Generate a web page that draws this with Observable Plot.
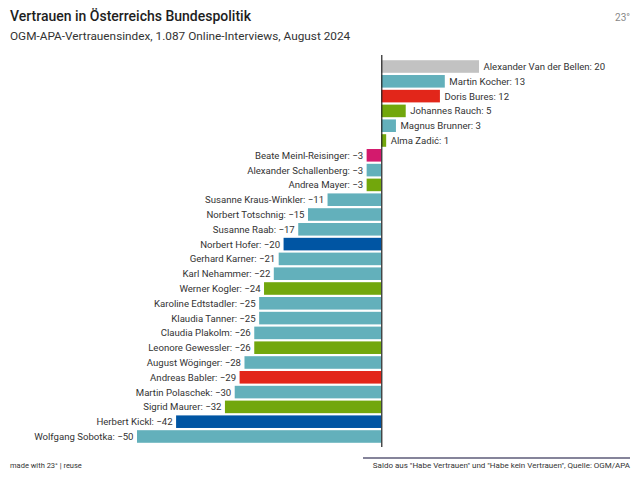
<!DOCTYPE html>
<html>
<head>
<meta charset="utf-8">
<script src="https://cdn.jsdelivr.net/npm/d3@7"></script>
<script src="https://cdn.jsdelivr.net/npm/@observablehq/plot@0.6"></script>
<style>
  body { margin: 0; width: 640px; height: 480px; overflow: hidden; background: #fff; font-family: Roboto, "Noto Sans", sans-serif; color: #222; position: relative; }
  #title { position: absolute; left: 10px; top: 8px; font-size: 14px; font-weight: 500; color: #1e1e1e; }
  #subtitle { position: absolute; left: 10px; top: 29px; font-size: 11.8px; color: #333; }
  #logo { position: absolute; right: 10px; top: 12px; font-size: 10px; color: #888; }
  #chart { position: absolute; left: 0; top: 50px; line-height: 0; }
  #chart svg { display: block; }
  #foot-left { position: absolute; left: 10px; top: 461px; font-size: 7.5px; color: #333; }
  #foot-right { position: absolute; right: 10px; top: 461px; font-size: 8px; color: #333; }
  #foot-line { position: absolute; left: 363px; width: 267px; top: 457px; height: 2px; background: #85849a; }
</style>
</head>
<body>
<div id="title">Vertrauen in Österreichs Bundespolitik</div>
<div id="subtitle">OGM-APA-Vertrauensindex, 1.087 Online-Interviews, August 2024</div>
<div id="logo">23°</div>
<div id="chart"></div>
<div id="foot-line"></div>
<div id="foot-left">made with 23° | reuse</div>
<div id="foot-right">Saldo aus "Habe Vertrauen" und "Habe kein Vertrauen", Quelle: OGM/APA</div>
<script>
const names = ["Alexander Van der Bellen","Martin Kocher","Doris Bures","Johannes Rauch","Magnus Brunner","Alma Zadić","Beate Meinl-Reisinger","Alexander Schallenberg","Andrea Mayer","Susanne Kraus-Winkler","Norbert Totschnig","Susanne Raab","Norbert Hofer","Gerhard Karner","Karl Nehammer","Werner Kogler","Karoline Edtstadler","Klaudia Tanner","Claudia Plakolm","Leonore Gewessler","August Wöginger","Andreas Babler","Martin Polaschek","Sigrid Maurer","Herbert Kickl","Wolfgang Sobotka"];
const values = [20,13,12,5,3,1,-3,-3,-3,-11,-15,-17,-20,-21,-22,-24,-25,-25,-26,-26,-28,-29,-30,-32,-42,-50];
const parties = ["Unabhängig","ÖVP","SPÖ","Grüne","ÖVP","Grüne","NEOS","ÖVP","Grüne","ÖVP","ÖVP","ÖVP","FPÖ","ÖVP","ÖVP","Grüne","ÖVP","ÖVP","ÖVP","Grüne","ÖVP","SPÖ","ÖVP","Grüne","FPÖ","ÖVP"];
const partyDomain = ["Unabhängig","ÖVP","SPÖ","Grüne","NEOS","FPÖ"];
const partyColors = ["#c2c2c2","#63b0bb","#e2261a","#72a70c","#d31a6d","#0055a3"];

const data = names.map((n, i) => ({name: n, value: values[i], party: parties[i]}));
const fmt = v => (v < 0 ? "\u2212" + Math.abs(v) : String(v));
const label = d => `${d.name}: ${fmt(d.value)}`;

const chart = Plot.plot({
  width: 640,
  height: 405,
  marginLeft: 137,
  marginRight: 161,
  marginTop: 8,
  marginBottom: 10,
  style: {fontFamily: "Roboto, 'Noto Sans', sans-serif", fontSize: "9.6px", color: "#333"},
  x: {domain: [-50, 20], axis: null},
  y: {domain: names, axis: null, padding: 0.15, round: false},
  color: {domain: partyDomain, range: partyColors},
  marks: [
    Plot.barX(data, {x: "value", y: "name", fill: "party"}),
    Plot.text(data.filter(d => d.value < 0), {
      x: "value", y: "name", text: label, textAnchor: "end", dx: -4, fill: "#333"
    }),
    Plot.text(data.filter(d => d.value >= 0), {
      x: "value", y: "name", text: label, textAnchor: "start", dx: 4, fill: "#333"
    }),
    Plot.ruleX([0], {stroke: "#222", strokeWidth: 1.2, insetTop: -3, insetBottom: -2})
  ]
});
document.getElementById("chart").appendChild(chart);
</script>
</body>
</html>
